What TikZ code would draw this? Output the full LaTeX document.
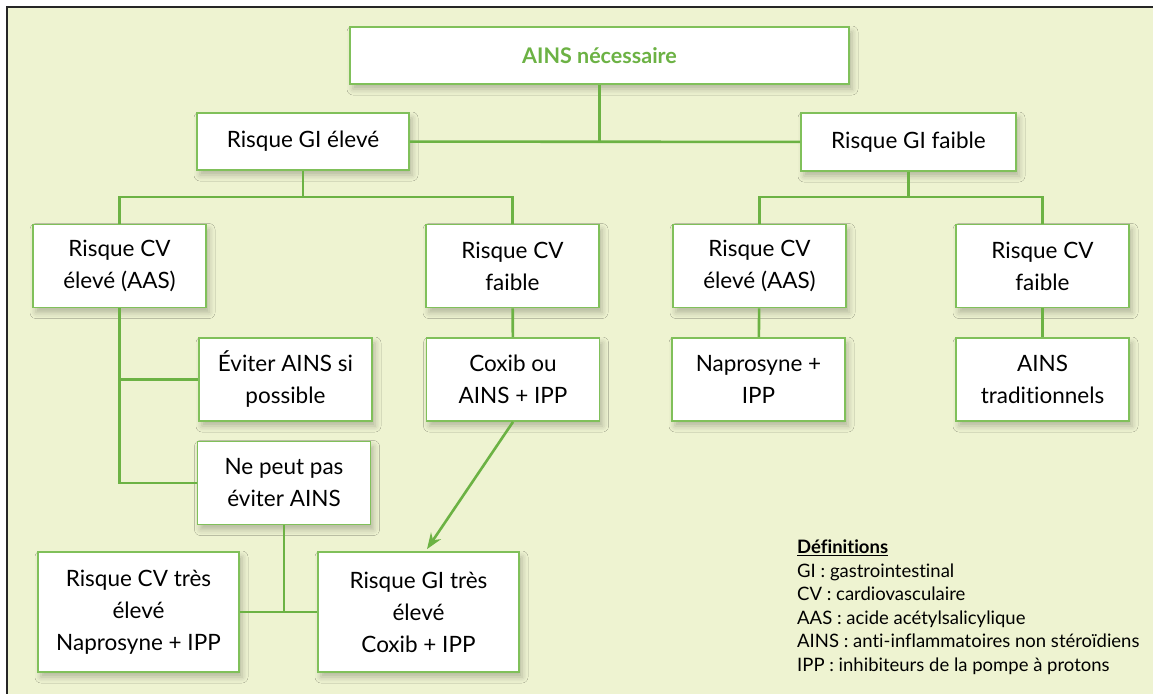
\documentclass[tikz,border=0pt]{standalone}
\usepackage{fontspec}
\setmainfont{Lato}[Ligatures=NoCommon]
\usetikzlibrary{arrows.meta,shadows.blur}
\definecolor{fond}{RGB}{238,243,209}
\definecolor{vert}{RGB}{108,178,68}
\definecolor{bord}{RGB}{128,192,90}

\begin{document}
\begin{tikzpicture}[x=1pt, y=-1pt,
   boite/.style={draw=bord, line width=1.8pt, fill=white, align=center, inner sep=2pt,
      font=\fontsize{22.5}{32}\selectfont,
      blur shadow={shadow xshift=3pt, shadow yshift=-5pt, shadow blur radius=6pt, shadow opacity=25}},
   carre/.style={minimum width=173pt, minimum height=83pt},
   grande/.style={minimum width=201pt, minimum height=120pt},
   lien/.style={draw=vert, line width=2.6pt}]
   \useasboundingbox (0,0) rectangle (1153,694);
   \fill[fond] (7,7) rectangle (1153,694);
   \draw[black!85, line width=2.5pt] (1153,7) -- (7,7) -- (7,694);

   \node[boite, minimum width=499pt, minimum height=57pt, text=vert,
      font=\fontsize{21.5}{32}\selectfont\bfseries] (ains) at (599.5,55.5) {AINS nécessaire};
   \node[boite, minimum width=212pt, minimum height=57pt] (gielev) at (303,141.5) {Risque GI élevé};
   \node[boite, minimum width=215pt, minimum height=58pt] (gifaib) at (908.5,142) {Risque GI faible};
   \node[boite, carre] (cvelev) at (119.5,266) {Risque CV\\élevé (AAS)};
   \node[boite, carre] (cvfaib) at (512.5,266) {Risque CV\\faible};
   \node[boite, carre] (cvelevb) at (759.5,266) {Risque CV\\élevé (AAS)};
   \node[boite, carre] (cvfaibb) at (1042.5,266) {Risque CV\\faible};
   \node[boite, carre] (eviter) at (285.5,379.5) {Éviter AINS si\\possible};
   \node[boite, carre] (coxibou) at (513,379.5) {Coxib ou\\AINS + IPP};
   \node[boite, carre] (napro) at (758.5,379.5) {Naprosyne +\\IPP};
   \node[boite, carre] (trad) at (1042.5,379.5) {AINS\\traditionnels};
   \node[boite, carre] (nepeut) at (284,483) {Ne peut pas\\éviter AINS};
   \node[boite, grande] (cvtres) at (138.5,612) {Risque CV très\\élevé\\Naprosyne + IPP};
   \node[boite, grande] (gitres) at (418.5,612) {Risque GI très\\élevé\\Coxib + IPP};

   \coordinate (jg) at (303,197);
   \coordinate (jd) at (908.5,197);
   \draw[lien] (ains) -- (ains |- gielev);
   \draw[lien] (gielev) -- (gifaib);
   \draw[lien] (gielev) -- (jg);
   \draw[lien] (cvelev) |- (jg) -| (cvfaib);
   \draw[lien] (gifaib) -- (jd);
   \draw[lien] (cvelevb) |- (jd) -| (cvfaibb);
   \draw[lien] (cvfaib) -- (coxibou);
   \draw[lien] (cvelevb) -- (napro);
   \draw[lien] (cvfaibb) -- (trad);
   \draw[lien] (cvelev) |- (eviter);
   \draw[lien] (cvelev) |- (nepeut);
   \draw[lien] (nepeut) -- (nepeut |- cvtres);
   \draw[lien] (cvtres) -- (gitres);
   \draw[lien, -{Stealth[length=16pt, width=12pt]}] (coxibou.south) -- ([xshift=8.5pt, yshift=2pt]gitres.north);

   \node[anchor=north west, align=left, inner sep=0pt, font=\fontsize{18.5}{23.5}\selectfont] (defs) at (797,540)
      {\textbf{\underline{Définitions}}\\
       GI : gastrointestinal\\
       CV : cardiovasculaire\\
       AAS : acide acétylsalicylique\\
       AINS : anti-inflammatoires non stéroïdiens\\
       IPP : inhibiteurs de la pompe à protons};
\end{tikzpicture}
\end{document}
